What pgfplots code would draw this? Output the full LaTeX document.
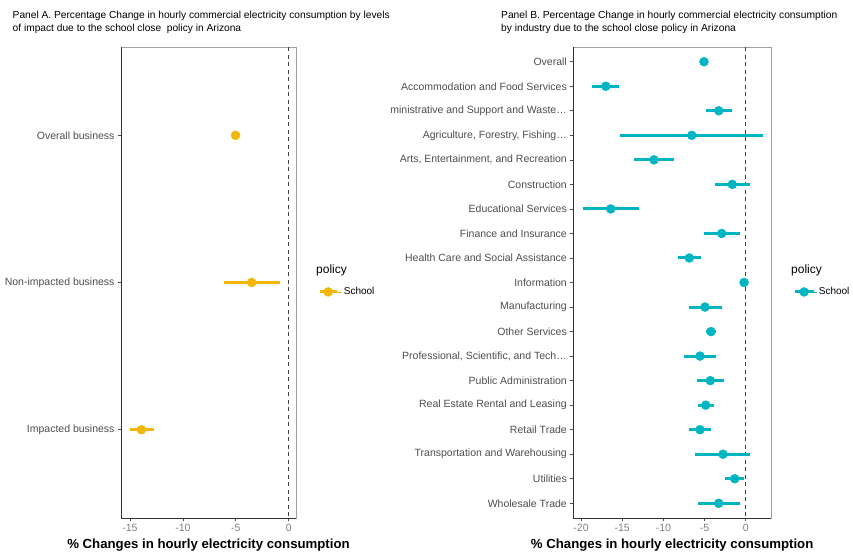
\documentclass[border=0pt]{standalone}
\usepackage{pgfplots}
\pgfplotsset{compat=1.18}
\usepackage{pgfplotstable}
\usepackage{fontspec}
\setmainfont{Liberation Sans}

\definecolor{schoolA}{HTML}{F2B705}
\definecolor{schoolB}{HTML}{00B5C2}
\definecolor{labgray}{HTML}{4D4D4D}
\definecolor{tickgray}{HTML}{7F7F7F}
\definecolor{framegray}{HTML}{A0A0A0}

% Panel A: estimate and 95% interval by level of impact
\pgfplotstableread{
y est lo hi
1 -5.02 -5.20 -4.85
2 -3.50 -6.13 -0.82
3 -13.92 -15.03 -12.76
}\panelA

% Panel B: estimate and 95% interval by industry
\pgfplotstableread{
y est lo hi
1 -5.07 -5.25 -4.90
2 -17.00 -18.70 -15.35
3 -3.28 -4.86 -1.70
4 -6.56 -15.27 2.10
5 -11.14 -13.53 -8.71
6 -1.63 -3.73 0.48
7 -16.40 -19.80 -12.96
8 -2.92 -5.07 -0.69
9 -6.85 -8.27 -5.39
10 -0.20 -0.40 0.00
11 -4.95 -6.89 -2.84
12 -4.22 -4.82 -3.60
13 -5.55 -7.46 -3.65
14 -4.30 -5.95 -2.67
15 -4.86 -5.83 -3.81
16 -5.55 -6.93 -4.18
17 -2.76 -6.12 0.56
18 -1.34 -2.48 -0.20
19 -3.28 -5.83 -0.73
}\panelB

\pgfplotsset{
  forest/.style={
    scale only axis,
    y dir=reverse,
    anchor=south west,
    height=471bp,
    axis line style={draw=framegray, line width=0.6bp},
    tick align=outside, tick pos=left,
    major tick length=3bp,
    every tick/.style={draw=labgray, line width=0.6bp},
    xticklabel style={font=\fontsize{10.5bp}{12bp}\selectfont, text=tickgray},
    yticklabel style={font=\fontsize{10.5bp}{12bp}\selectfont, text=labgray},
    xlabel={\% Changes in hourly electricity consumption},
    xlabel style={font=\bfseries\fontsize{13.2bp}{15bp}\selectfont},
    legend style={draw=none, fill=none, inner sep=0pt,
      font=\fontsize{10bp}{12bp}\selectfont, anchor=west},
  },
  ci/.style={
    only marks, mark=*, mark size=4.5bp, color=#1,
    mark options={draw=#1, fill=#1},
    error bars/.cd, x dir=both, x explicit, error mark=none,
    error bar style={line width=3bp, color=#1},
  },
  zero line/.style={forget plot, black!75, line width=1.1bp, dash pattern=on 4bp off 3.5bp},
}

\begin{document}
\begin{tikzpicture}
\path[use as bounding box] (0,0) rectangle (853bp,-553bp);

% Titles
\node[anchor=north west, align=left, font=\fontsize{10.2bp}{12.5bp}\selectfont, inner sep=0pt]
  at (12.5bp,-11bp) {Panel A. Percentage Change in hourly commercial electricity consumption by levels\\of impact due to the school close\ \ policy in Arizona};
\node[anchor=north west, align=left, font=\fontsize{10.25bp}{12.5bp}\selectfont, inner sep=0pt]
  at (501bp,-11bp) {Panel B. Percentage Change in hourly commercial electricity consumption\\by industry due to the school close policy in Arizona};

% Panel A
\begin{axis}[forest, name=A,
  at={(121bp,-518bp)}, width=175bp,
  xmin=-15.85, xmax=0.69, ymin=0.4, ymax=3.6,
  xtick={-15,-10,-5,0}, xticklabels={-15,-10,-5,0},
  ytick={1,2,3},
  yticklabels={Overall business, Non-impacted business, Impacted business},
  legend style={at={(rel axis cs:1.1257,0.48)}},
  legend image code/.code={
    \path (0bp,0bp) -- (22bp,0bp);
    \draw[schoolA, line width=3bp] (0bp,0bp) -- (17bp,0bp);
    \fill[schoolA] (8.5bp,0bp) circle (4.5bp);},
]
\addplot[zero line] coordinates {(0,0.4) (0,3.6)};
\addplot[ci=schoolA] table[x=est, y=y,
  x error plus expr=\thisrow{hi}-\thisrow{est},
  x error minus expr=\thisrow{est}-\thisrow{lo}] {\panelA};
\addlegendentry{School}
\end{axis}
\draw[black!80, line width=1bp] (A.north west) -- (A.south west) -- (A.south east);
\node[anchor=west, font=\fontsize{12bp}{14bp}\selectfont, inner sep=0pt] at (316bp,-270bp) {policy};

% Panel B
\begin{axis}[forest, name=B,
  at={(573.3bp,-518bp)}, width=197.7bp,
  xmin=-20.94, xmax=3.07, ymin=0.4, ymax=19.6,
  xtick={-20,-15,-10,-5,0}, xticklabels={-20,-15,-10,-5,0},
  ytick={1,...,19},
  yticklabels={Overall, Accommodation and Food Services, ministrative and Support and Waste…,
    {Agriculture, Forestry, Fishing…}, {Arts, Entertainment, and Recreation}, Construction,
    Educational Services, Finance and Insurance, Health Care and Social Assistance,
    Information, Manufacturing, Other Services, {Professional, Scientific, and Tech…},
    Public Administration, Real Estate Rental and Leasing, Retail Trade,
    Transportation and Warehousing, Utilities, Wholesale Trade},
  legend style={at={(rel axis cs:1.111,0.48)}},
  legend image code/.code={
    \path (0bp,0bp) -- (22bp,0bp);
    \draw[schoolB, line width=3bp] (0bp,0bp) -- (19bp,0bp);
    \fill[schoolB] (9.5bp,0bp) circle (4.5bp);},
]
\addplot[zero line] coordinates {(0,0.4) (0,19.6)};
\addplot[ci=schoolB] table[x=est, y=y,
  x error plus expr=\thisrow{hi}-\thisrow{est},
  x error minus expr=\thisrow{est}-\thisrow{lo}] {\panelB};
\addlegendentry{School}
\end{axis}
\draw[black!80, line width=1bp] (B.north west) -- (B.south west) -- (B.south east);
\node[anchor=west, font=\fontsize{12bp}{14bp}\selectfont, inner sep=0pt] at (791bp,-270bp) {policy};
\end{tikzpicture}
\end{document}
